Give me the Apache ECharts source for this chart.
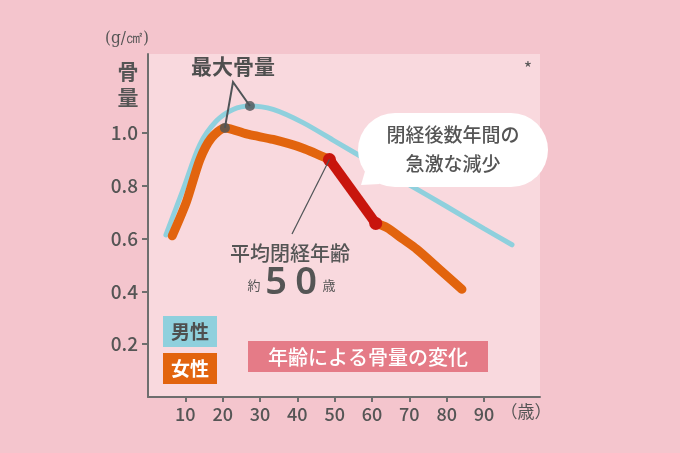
<!DOCTYPE html>
<html>
<head>
<meta charset="utf-8">
<script src="https://cdn.jsdelivr.net/npm/echarts@6/dist/echarts.min.js"></script>
<style>
  html, body { margin: 0; padding: 0; background: #f4c5cd; }
  #chart { width: 680px; height: 453px; }
</style>
</head>
<body>
<div id="chart"></div>
<script>
// 年齢ごとの骨量 (g/cm2)
var maleData = [
  [4.8, 0.614], [9.5, 0.79], [13.9, 0.957], [18.3, 1.046], [22.8, 1.09],
  [27.3, 1.103], [33.5, 1.09], [41.5, 1.04], [50, 0.97], [60, 0.887],
  [70, 0.804], [80, 0.722], [90, 0.638], [97.5, 0.577]
];
var femaleData = [
  [6.5, 0.611], [10.3, 0.74], [13.9, 0.9], [17, 0.982], [20.6, 1.02],
  [27, 0.995], [33.5, 0.976], [41.5, 0.943], [48.6, 0.90]
];
var dropData = [[48.6, 0.90], [61, 0.658]];
var femaleLate = [
  [61, 0.658], [64, 0.642], [68.1, 0.60], [72, 0.56], [78, 0.485], [84.1, 0.408]
];
var peakPoints = [[27.3, 1.103], [20.6, 1.02]];
var xTicks = [10, 20, 30, 40, 50, 60, 70, 80, 90];
var yTicks = [0.2, 0.4, 0.6, 0.8, 1.0];

var font = '"Noto Sans CJK JP", "Noto Sans", sans-serif';
var textColor = '#555555';

var myChart = echarts.init(document.getElementById('chart'));
var option = {
  backgroundColor: '#f4c5cd',
  animation: false,
  grid: {
    left: 148, right: 140, top: 54, bottom: 56,
    show: true, backgroundColor: '#f9d9de', borderWidth: 0
  },
  xAxis: {
    type: 'value', min: 0, max: 105,
    splitLine: { show: false },
    axisLine: { lineStyle: { color: '#6e6e6e', width: 2 } },
    axisTick: { customValues: xTicks, length: 5, lineStyle: { color: '#6e6e6e', width: 2 } },
    axisLabel: {
      customValues: xTicks, margin: 8,
      color: textColor, fontSize: 18, fontWeight: 500, fontFamily: font
    }
  },
  yAxis: {
    type: 'value', min: 0, max: 1.3,
    splitLine: { show: false },
    axisLine: { show: true, lineStyle: { color: '#6e6e6e', width: 2 } },
    axisTick: { show: true, customValues: yTicks, length: 6, lineStyle: { color: '#6e6e6e', width: 2 } },
    axisLabel: {
      customValues: yTicks, margin: 10,
      color: textColor, fontSize: 19, fontWeight: 500, fontFamily: font,
      formatter: function (v) { return v.toFixed(1); }
    }
  },
  series: [
    {
      name: '男性', type: 'line', data: maleData,
      smooth: 0.3, showSymbol: false,
      lineStyle: { color: '#8fd0dd', width: 5, cap: 'round' }
    },
    {
      name: '女性', type: 'line', data: femaleData,
      smooth: 0.25, showSymbol: false,
      lineStyle: { color: '#e2640e', width: 9, cap: 'round', join: 'round' }
    },
    {
      name: '女性後期', type: 'line', data: femaleLate,
      smooth: 0.3, showSymbol: false,
      lineStyle: { color: '#e2640e', width: 9, cap: 'round', join: 'round' }
    },
    {
      name: '急激な減少', type: 'line', data: dropData,
      showSymbol: true, symbol: 'circle', symbolSize: 13,
      itemStyle: { color: '#c8150d' },
      lineStyle: { color: '#c8150d', width: 10 }
    },
    {
      name: '最大骨量', type: 'scatter', data: peakPoints,
      symbolSize: 10, itemStyle: { color: '#4f5457' }, z: 5
    }
  ]
};
myChart.setOption(option);

var p1 = myChart.convertToPixel({ gridIndex: 0 }, peakPoints[0]);
var p2 = myChart.convertToPixel({ gridIndex: 0 }, peakPoints[1]);
var pm = myChart.convertToPixel({ gridIndex: 0 }, dropData[0]);
var anchor = [233, 82];

myChart.setOption({
  graphic: [
    // 軸タイトル
    { type: 'text', left: 105, top: 30, style: { text: '(g/㎠)', font: '17px "DejaVu Serif Condensed", "DejaVu Serif", serif', fill: textColor } },
    { type: 'text', x: 128, y: 58, style: { text: '骨\n量', font: 'bold 21px ' + font, fill: textColor, align: 'center', lineHeight: 26 } },
    { type: 'text', x: 526, y: 412, style: { text: '（歳）', font: '17px ' + font, fill: textColor, align: 'center', verticalAlign: 'middle' } },
    { type: 'text', x: 528, y: 68, style: { text: '*', font: '18px ' + font, fill: textColor, align: 'center', verticalAlign: 'middle' } },
    // 最大骨量
    { type: 'text', x: 233, y: 66, style: { text: '最大骨量', font: 'bold 21px ' + font, fill: '#4f4f4f', align: 'center', verticalAlign: 'middle' } },
    { type: 'polyline', shape: { points: [p2, anchor, p1] }, style: { stroke: '#4f5457', lineWidth: 2, fill: null }, z: 4 },
    // 平均閉経年齢
    { type: 'line', shape: { x1: pm[0], y1: pm[1], x2: 292, y2: 234 }, style: { stroke: '#4f5457', lineWidth: 1.2 }, z: 4 },
    { type: 'text', x: 290, y: 253, style: { text: '平均閉経年齢', font: '500 20px ' + font, fill: textColor, align: 'center', verticalAlign: 'middle' } },
    { type: 'text', x: 254, y: 285, style: { text: '約', font: '13px ' + font, fill: textColor, align: 'center', verticalAlign: 'middle' } },
    { type: 'text', x: 276, y: 283, style: { text: '5', font: '600 38px "Noto Sans", sans-serif', fill: textColor, align: 'center', verticalAlign: 'middle' } },
    { type: 'text', x: 306, y: 283, style: { text: '0', font: '600 38px "Noto Sans", sans-serif', fill: textColor, align: 'center', verticalAlign: 'middle' } },
    { type: 'text', x: 329, y: 285, style: { text: '歳', font: '13px ' + font, fill: textColor, align: 'center', verticalAlign: 'middle' } },
    // 吹き出し
    { type: 'polygon', shape: { points: [[366, 168], [380, 184], [361, 185]] }, style: { fill: '#ffffff' }, z: 6 },
    { type: 'rect', shape: { x: 358, y: 113, width: 190, height: 74, r: 37 }, style: { fill: '#ffffff' }, z: 6 },
    { type: 'text', x: 453, y: 135, z: 7, style: { text: '閉経後数年間の', font: '500 19px ' + font, fill: textColor, align: 'center', verticalAlign: 'middle' } },
    { type: 'text', x: 453, y: 164, z: 7, style: { text: '急激な減少', font: '500 19px ' + font, fill: textColor, align: 'center', verticalAlign: 'middle' } },
    // 凡例
    { type: 'rect', shape: { x: 163, y: 316, width: 54, height: 31 }, style: { fill: '#8fd0dd' } },
    { type: 'text', x: 190, y: 332, style: { text: '男性', font: 'bold 19px ' + font, fill: '#4f4f4f', align: 'center', verticalAlign: 'middle' } },
    { type: 'rect', shape: { x: 163, y: 353, width: 54, height: 31 }, style: { fill: '#e2640e' } },
    { type: 'text', x: 190, y: 369, style: { text: '女性', font: 'bold 19px ' + font, fill: '#ffffff', align: 'center', verticalAlign: 'middle' } },
    // タイトル
    { type: 'rect', shape: { x: 248, y: 341, width: 240, height: 31 }, style: { fill: '#e57b87' } },
    { type: 'text', x: 368, y: 357, style: { text: '年齢による骨量の変化', font: '500 20px ' + font, fill: '#ffffff', align: 'center', verticalAlign: 'middle' } }
  ]
});
</script>
</body>
</html>
